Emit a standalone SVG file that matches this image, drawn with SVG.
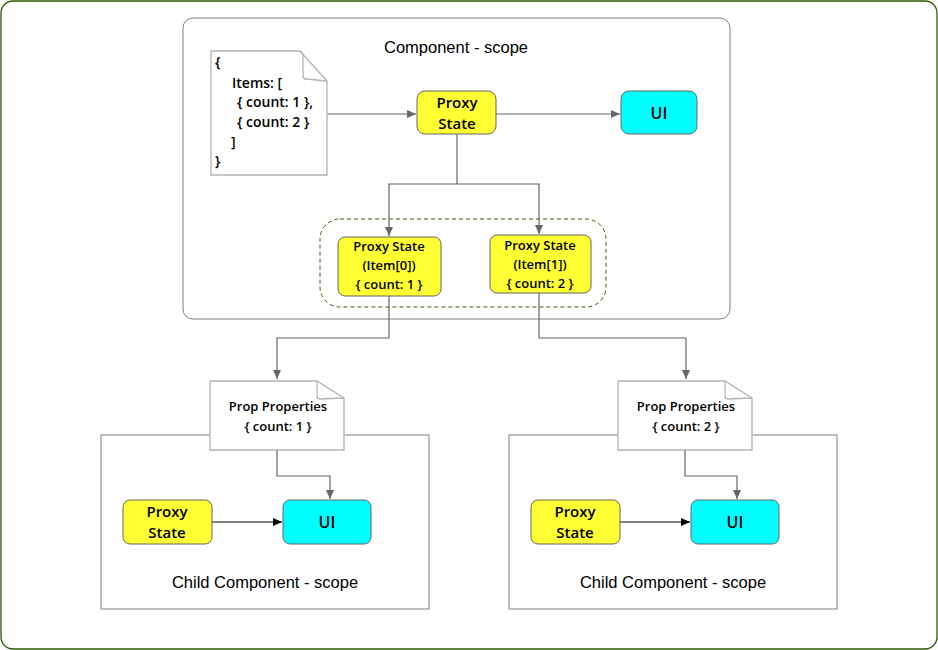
<svg xmlns="http://www.w3.org/2000/svg" width="938" height="650" viewBox="0 0 938 650">
<defs>
<style>
.lbl{font-family:"Open Sans","Liberation Sans",sans-serif;font-weight:600;fill:#000;text-anchor:middle}
.cap{font-family:"Liberation Sans",Arial,sans-serif;font-size:16.5px;fill:#000;text-anchor:middle}
.doc{fill:#fff;stroke:#b3b3b3;stroke-width:1.3}
.fold{fill:none;stroke:#b3b3b3;stroke-width:1.3}
.ps{fill:#ffff33;stroke:#666;stroke-width:1}
.ui{fill:#00ffff;stroke:#666;stroke-width:1}
.con{fill:none;stroke:#666;stroke-width:1.2}
.conb{fill:none;stroke:#000;stroke-width:1.2}
</style>
<marker id="ag" markerWidth="10" markerHeight="10" refX="9" refY="5" orient="auto" markerUnits="userSpaceOnUse"><path d="M0,1 L9,5 L0,9 Z" fill="#666"/></marker>
<marker id="ab" markerWidth="10" markerHeight="10" refX="9" refY="5" orient="auto" markerUnits="userSpaceOnUse"><path d="M0,1 L9,5 L0,9 Z" fill="#000"/></marker>
</defs>
<rect x="1" y="1" width="936" height="648" rx="12" fill="#fff" stroke="#2d5a00" stroke-width="1.3"/>

<g id="component-scope">
<rect x="183" y="18" width="547" height="301" rx="10" fill="#fff" stroke="#808080" stroke-width="1"/>
<text class="cap" x="456" y="53">Component - scope</text>
</g>

<g id="child-left">
<rect x="101" y="435" width="328" height="174" fill="#fff" stroke="#808080" stroke-width="1"/>
<text class="cap" x="265" y="588">Child Component - scope</text>
</g>
<g id="child-right">
<rect x="509" y="435" width="328" height="174" fill="#fff" stroke="#808080" stroke-width="1"/>
<text class="cap" x="673" y="588">Child Component - scope</text>
</g>

<g id="item-group">
<rect x="320" y="219" width="286" height="88" rx="20" fill="none" stroke="#336600" stroke-width="1" stroke-dasharray="4 3"/>
</g>

<g id="connectors">
<path class="con" d="M327,114 H416" marker-end="url(#ag)"/>
<path class="con" d="M496,114 H620" marker-end="url(#ag)"/>
<path class="con" d="M457,134 V184 H389 V236" marker-end="url(#ag)"/>
<path class="con" d="M457,184 H539 V234" marker-end="url(#ag)"/>
<path class="con" d="M389,296 V338 H277 V379" marker-end="url(#ag)"/>
<path class="con" d="M539,293 V338 H686 V379" marker-end="url(#ag)"/>
<path class="con" d="M277,450 V476 H330 V499" marker-end="url(#ag)"/>
<path class="con" d="M685,450 V476 H737 V499" marker-end="url(#ag)"/>
<path class="conb" d="M212,522 H282" marker-end="url(#ab)"/>
<path class="conb" d="M620,522 H690" marker-end="url(#ab)"/>
</g>

<g id="json-doc">
<path class="doc" d="M211,51 H300 L327,81 V175 H211 Z"/>
<path class="fold" d="M300,51 Q303,52 303,56 V76 Q303,79 306,79 L327,81"/>
<g class="lbl" style="font-size:14px;text-anchor:start">
<text x="215" y="67">{</text>
<text x="232" y="88">Items: [</text>
<text x="237" y="107">{ count: 1 },</text>
<text x="237" y="127">{ count: 2 }</text>
<text x="231" y="147">]</text>
<text x="215" y="166">}</text>
</g>
</g>

<g id="proxy-state">
<rect class="ps" x="417" y="91" width="79" height="43" rx="8"/>
<text class="lbl" x="457" y="108" style="font-size:15px">Proxy</text>
<text class="lbl" x="457" y="129" style="font-size:15px">State</text>
</g>

<g id="ui">
<rect class="ui" x="621" y="91" width="76" height="43" rx="8"/>
<text class="lbl" x="659" y="119" style="font-size:16px">UI</text>
</g>

<g id="item0">
<rect class="ps" x="338" y="237" width="103" height="59" rx="7"/>
<text class="lbl" x="389" y="251" style="font-size:13px">Proxy State</text>
<text class="lbl" x="389" y="270" style="font-size:13px">(Item[0])</text>
<text class="lbl" x="389" y="289" style="font-size:13px">{ count: 1 }</text>
</g>

<g id="item1">
<rect class="ps" x="490" y="235" width="101" height="58" rx="7"/>
<text class="lbl" x="540" y="250" style="font-size:13px">Proxy State</text>
<text class="lbl" x="540" y="269" style="font-size:13px">(Item[1])</text>
<text class="lbl" x="540" y="288" style="font-size:13px">{ count: 2 }</text>
</g>

<g id="prop-left">
<path class="doc" d="M210,381 H317 L344,398 V450 H210 Z"/>
<path class="fold" d="M317,381 V396 Q317,399 320,399 L344,398"/>
<text class="lbl" x="278" y="411" style="font-size:13px">Prop Properties</text>
<text class="lbl" x="278" y="431" style="font-size:13px">{ count: 1 }</text>
</g>

<g id="prop-right">
<path class="doc" d="M618,381 H725 L752,398 V450 H618 Z"/>
<path class="fold" d="M725,381 V396 Q725,399 728,399 L752,398"/>
<text class="lbl" x="686" y="411" style="font-size:13px">Prop Properties</text>
<text class="lbl" x="686" y="431" style="font-size:13px">{ count: 2 }</text>
</g>

<g id="proxy-left">
<rect class="ps" x="123" y="500" width="89" height="44" rx="7"/>
<text class="lbl" x="167" y="517" style="font-size:15px">Proxy</text>
<text class="lbl" x="167" y="538" style="font-size:15px">State</text>
</g>
<g id="ui-left">
<rect class="ui" x="283" y="500" width="88" height="44" rx="7"/>
<text class="lbl" x="327" y="528" style="font-size:16px">UI</text>
</g>

<g id="proxy-right">
<rect class="ps" x="531" y="500" width="89" height="44" rx="7"/>
<text class="lbl" x="575" y="517" style="font-size:15px">Proxy</text>
<text class="lbl" x="575" y="538" style="font-size:15px">State</text>
</g>
<g id="ui-right">
<rect class="ui" x="691" y="500" width="88" height="44" rx="7"/>
<text class="lbl" x="735" y="528" style="font-size:16px">UI</text>
</g>
</svg>
